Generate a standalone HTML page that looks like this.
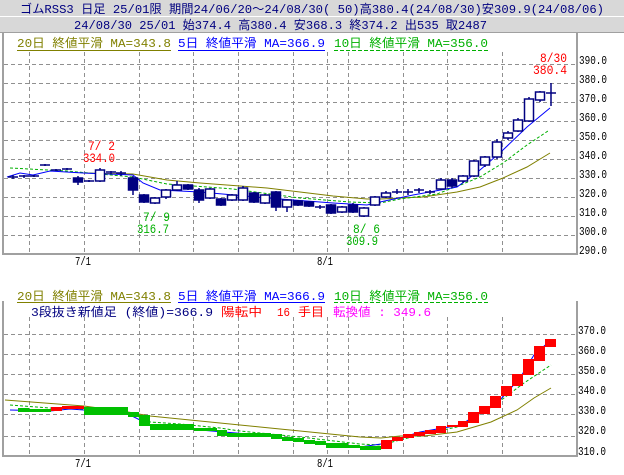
<!DOCTYPE html>
<html><head><meta charset="utf-8"><style>
html,body{margin:0;padding:0;background:#fff;}
svg{display:block;}
text{font-family:"Liberation Mono","Noto Sans CJK JP",monospace;font-size:12px;}
.ax{font-size:11px;fill:#000;}
.an{font-size:13px;}
</style></head><body>
<svg width="624" height="475" viewBox="0 0 624 475" xmlns="http://www.w3.org/2000/svg">
<rect width="624" height="475" fill="#fff"/>
<rect x="0" y="0" width="624" height="16" fill="#d8d8d8"/>
<line x1="0" y1="16.5" x2="624" y2="16.5" stroke="#fff"/>
<rect x="0" y="17" width="624" height="15" fill="#d8d8d8"/>
<line x1="0" y1="32.5" x2="624" y2="32.5" stroke="#a0a0a0"/>
<text x="20" y="13" fill="#000080" textLength="584" lengthAdjust="spacingAndGlyphs">ゴムRSS3 日足 25/01限 期間24/06/20～24/08/30( 50)高380.4(24/08/30)安309.9(24/08/06)</text>
<text x="74" y="29" fill="#000080" textLength="413" lengthAdjust="spacingAndGlyphs">24/08/30 25/01 始374.4 高380.4 安368.3 終374.2 出535 取2487</text>

<g stroke="#909090" stroke-dasharray="4,3" stroke-width="1">
<line x1="4" y1="64.5" x2="576" y2="64.5"/><line x1="4" y1="83.5" x2="576" y2="83.5"/>
<line x1="4" y1="102.5" x2="576" y2="102.5"/><line x1="4" y1="121.5" x2="576" y2="121.5"/>
<line x1="4" y1="140.5" x2="576" y2="140.5"/><line x1="4" y1="159.5" x2="576" y2="159.5"/>
<line x1="4" y1="178.5" x2="576" y2="178.5"/><line x1="4" y1="197.5" x2="576" y2="197.5"/>
<line x1="4" y1="216.5" x2="576" y2="216.5"/><line x1="4" y1="235.5" x2="576" y2="235.5"/>
<line x1="29.5" y1="52" x2="29.5" y2="253"/><line x1="84.5" y1="52" x2="84.5" y2="253"/>
<line x1="139.5" y1="52" x2="139.5" y2="253"/><line x1="193.5" y1="52" x2="193.5" y2="253"/>
<line x1="238.5" y1="52" x2="238.5" y2="253"/><line x1="293.5" y1="52" x2="293.5" y2="253"/>
<line x1="327.5" y1="52" x2="327.5" y2="253"/><line x1="348.5" y1="52" x2="348.5" y2="253"/>
<line x1="403.5" y1="52" x2="403.5" y2="253"/><line x1="447.5" y1="52" x2="447.5" y2="253"/>
<line x1="502.5" y1="52" x2="502.5" y2="253"/>
</g>
<g stroke="#a0a0a0" stroke-width="2" fill="none">
<polyline points="3,33 3,254 577,254 577,33"/>
</g>
<g class="ax">
<text x="579" y="64" textLength="28" lengthAdjust="spacingAndGlyphs">390.0</text>
<text x="579" y="83" textLength="28" lengthAdjust="spacingAndGlyphs">380.0</text>
<text x="579" y="102" textLength="28" lengthAdjust="spacingAndGlyphs">370.0</text>
<text x="579" y="121" textLength="28" lengthAdjust="spacingAndGlyphs">360.0</text>
<text x="579" y="140" textLength="28" lengthAdjust="spacingAndGlyphs">350.0</text>
<text x="579" y="159" textLength="28" lengthAdjust="spacingAndGlyphs">340.0</text>
<text x="579" y="178" textLength="28" lengthAdjust="spacingAndGlyphs">330.0</text>
<text x="579" y="197" textLength="28" lengthAdjust="spacingAndGlyphs">320.0</text>
<text x="579" y="216" textLength="28" lengthAdjust="spacingAndGlyphs">310.0</text>
<text x="579" y="235" textLength="28" lengthAdjust="spacingAndGlyphs">300.0</text>
<text x="579" y="254" textLength="28" lengthAdjust="spacingAndGlyphs">290.0</text>
<text x="75" y="265" textLength="16" lengthAdjust="spacingAndGlyphs">7/1</text>
<text x="317" y="265" textLength="16" lengthAdjust="spacingAndGlyphs">8/1</text>
</g>
<text x="17" y="47" fill="#808000" textLength="154" lengthAdjust="spacingAndGlyphs">20日 終値平滑 MA=343.8</text>
<line x1="17" y1="50.5" x2="171" y2="50.5" stroke="#808000"/>
<text x="178" y="47" fill="#0000ff" textLength="147" lengthAdjust="spacingAndGlyphs">5日 終値平滑 MA=366.9</text>
<line x1="178" y1="50.5" x2="325" y2="50.5" stroke="#0000ff"/>
<text x="334" y="47" fill="#00b000" textLength="154" lengthAdjust="spacingAndGlyphs">10日 終値平滑 MA=356.0</text>
<line x1="334" y1="50.5" x2="488" y2="50.5" stroke="#00b000" stroke-dasharray="4,2"/>

<polyline fill="none" stroke="#808000" stroke-width="1" points="83,173 133,174 167,180 200,183 267,188 333,196 367,199 380,199 400,198 423,197 457,192 480,187 503,178 527,167 550,153"/>
<polyline fill="none" stroke="#00b000" stroke-width="1" stroke-dasharray="3,2" points="10,168 67,171 133,177 167,184 233,189 300,198 350,202 380,203 400,199 437,194 463,184 480,177 503,163 527,145 548,131"/>
<polyline fill="none" stroke="#0000ff" stroke-width="1" points="7,177 20,173 33,175 50,171 83,173 133,175 143,183 160,190 200,192 267,198 333,203 367,205 380,202 413,195 457,187 480,170 503,150 527,127 550,108"/>

<g id="candles" stroke="#000080" stroke-width="1.5"></g>

<g class="an">
<text x="88" y="150" fill="#ff0000" style="font-size:13px" textLength="27" lengthAdjust="spacingAndGlyphs">7/ 2</text>
<text x="83" y="162" fill="#ff0000" style="font-size:13px" textLength="32" lengthAdjust="spacingAndGlyphs">334.0</text>
<text x="143" y="221" fill="#00b000" style="font-size:13px" textLength="27" lengthAdjust="spacingAndGlyphs">7/ 9</text>
<text x="137" y="233" fill="#00b000" style="font-size:13px" textLength="32" lengthAdjust="spacingAndGlyphs">316.7</text>
<text x="353" y="233" fill="#00b000" style="font-size:13px" textLength="27" lengthAdjust="spacingAndGlyphs">8/ 6</text>
<text x="346" y="245" fill="#00b000" style="font-size:13px" textLength="32" lengthAdjust="spacingAndGlyphs">309.9</text>
<text x="540" y="62" fill="#ff0000" style="font-size:13px" textLength="27" lengthAdjust="spacingAndGlyphs">8/30</text>
<text x="533" y="74" fill="#ff0000" style="font-size:13px" textLength="34" lengthAdjust="spacingAndGlyphs">380.4</text>
</g>

<g stroke="#909090" stroke-dasharray="4,3" stroke-width="1">
<line x1="4" y1="334.5" x2="576" y2="334.5"/><line x1="4" y1="354.5" x2="576" y2="354.5"/>
<line x1="4" y1="374.5" x2="576" y2="374.5"/><line x1="4" y1="394.5" x2="576" y2="394.5"/>
<line x1="4" y1="414.5" x2="576" y2="414.5"/><line x1="4" y1="436.5" x2="576" y2="436.5"/>
<line x1="29.5" y1="317" x2="29.5" y2="455"/><line x1="84.5" y1="317" x2="84.5" y2="455"/>
<line x1="139.5" y1="317" x2="139.5" y2="455"/><line x1="193.5" y1="317" x2="193.5" y2="455"/>
<line x1="238.5" y1="317" x2="238.5" y2="455"/><line x1="293.5" y1="317" x2="293.5" y2="455"/>
<line x1="327.5" y1="317" x2="327.5" y2="455"/><line x1="348.5" y1="317" x2="348.5" y2="455"/>
<line x1="403.5" y1="317" x2="403.5" y2="455"/><line x1="447.5" y1="317" x2="447.5" y2="455"/>
<line x1="502.5" y1="317" x2="502.5" y2="455"/>
</g>
<polyline fill="none" stroke="#a0a0a0" stroke-width="2" points="3,301 3,456 577,456 577,301"/>
<g class="ax">
<text x="578" y="334" textLength="28" lengthAdjust="spacingAndGlyphs">370.0</text>
<text x="578" y="354" textLength="28" lengthAdjust="spacingAndGlyphs">360.0</text>
<text x="578" y="374" textLength="28" lengthAdjust="spacingAndGlyphs">350.0</text>
<text x="578" y="394" textLength="28" lengthAdjust="spacingAndGlyphs">340.0</text>
<text x="578" y="414" textLength="28" lengthAdjust="spacingAndGlyphs">330.0</text>
<text x="578" y="434" textLength="28" lengthAdjust="spacingAndGlyphs">320.0</text>
<text x="578" y="455" textLength="28" lengthAdjust="spacingAndGlyphs">310.0</text>
<text x="75" y="467" textLength="16" lengthAdjust="spacingAndGlyphs">7/1</text>
<text x="317" y="467" textLength="16" lengthAdjust="spacingAndGlyphs">8/1</text>
</g>
<text x="17" y="300" fill="#808000" textLength="154" lengthAdjust="spacingAndGlyphs">20日 終値平滑 MA=343.8</text>
<line x1="17" y1="302.5" x2="171" y2="302.5" stroke="#808000"/>
<text x="178" y="300" fill="#0000ff" textLength="147" lengthAdjust="spacingAndGlyphs">5日 終値平滑 MA=366.9</text>
<line x1="178" y1="302.5" x2="325" y2="302.5" stroke="#0000ff"/>
<text x="334" y="300" fill="#00b000" textLength="154" lengthAdjust="spacingAndGlyphs">10日 終値平滑 MA=356.0</text>
<line x1="334" y1="302.5" x2="488" y2="302.5" stroke="#00b000" stroke-dasharray="4,2"/>
<text x="31" y="316" fill="#000080" textLength="182" lengthAdjust="spacingAndGlyphs">3段抜き新値足 (終値)=366.9</text>
<text x="221" y="316" fill="#ff0000" textLength="41" lengthAdjust="spacingAndGlyphs">陽転中</text>
<text x="277" y="316" fill="#ff0000" textLength="13" lengthAdjust="spacingAndGlyphs">16</text>
<text x="298" y="316" fill="#ff0000" textLength="26" lengthAdjust="spacingAndGlyphs">手目</text>
<text x="333" y="316" fill="#ff00ff" textLength="98" lengthAdjust="spacingAndGlyphs">転換値 : 349.6</text>

<polyline fill="none" stroke="#808000" points="5,400 84,406 128,412 150,416 200,421 260,427 300,431 340,435 360,437 381,438 400,436 424,436 457,432 491,422 517,410 534,398 551,388"/>
<polyline fill="none" stroke="#00b000" stroke-dasharray="3,2" points="10,405 50,408 84,409 128,413 150,422 180,424 220,428 240,431 300,437 360,444 381,445 400,440 424,434 457,427 484,412 504,398 524,383 551,365"/>
<polyline fill="none" stroke="#0000ff" points="10,410 50,411 70,409 84,410 128,414 150,425 200,430 260,435 320,443 360,447 381,444 420,432 460,425 480,413 500,400 520,378 534,355 551,340"/>

<g id="nb"></g>
</svg>
<script>
var C=[[13,177,177,175,179,0],[24,176,177,175,178,0],[34,176,176,175,177,0],[45,165,165,164,166,0],[56,170,170,169,171,0],[67,169,169,168,170,0],[78,178,182,176,185,1],[89,181,181,180,182,0],[100,170,181,168,182,0],[111,172,172,171,174,0],[121,173,173,171,176,0],[133,178,190,176,195,1],[144,195,202,194,203,1],[155,198,203,197,204,0],[166,190,197,189,199,0],[177,185,190,181,191,0],[188,185,189,184,190,1],[199,190,200,188,203,1],[210,189,198,188,199,0],[221,199,205,198,206,1],[232,195,200,194,201,0],[243,188,200,186,201,0],[254,193,202,192,203,1],[265,195,203,194,204,0],[276,192,207,191,211,1],[287,200,207,199,212,0],[298,201,205,200,206,1],[309,202,206,201,207,1],[320,207,207,205,209,0],[331,205,213,204,214,1],[342,207,212,206,213,0],[353,205,212,203,213,1],[364,208,216,207,217,0],[375,197,205,196,206,0],[386,193,197,191,198,0],[397,192,192,189,194,0],[408,192,192,189,195,0],[419,190,190,188,193,0],[430,192,192,190,194,0],[441,180,189,178,190,0],[452,180,186,178,188,1],[463,176,181,175,183,0],[474,161,176,160,177,0],[485,157,165,156,167,0],[497,142,157,139,159,0],[508,133,138,131,140,0],[518,120,131,118,132,0],[529,99,121,97,122,0],[540,92,100,91,102,0],[551,93,93,83,106,0]];
var g=document.getElementById("candles"),s="";
C.forEach(function(c){var x=c[0];
s+='<line x1="'+x+'" y1="'+c[3]+'" x2="'+x+'" y2="'+c[4]+'"/>';
if(c[2]-c[1]<1.5){s+='<line x1="'+(x-5)+'" y1="'+c[1]+'" x2="'+(x+5)+'" y2="'+c[1]+'"/>';}
else s+='<rect x="'+(x-4.5)+'" y="'+c[1]+'" width="9" height="'+(c[2]-c[1])+'" fill="'+(c[5]?'#000080':'#fff')+'"/>';});
g.innerHTML=s;
var B=[[18,29,408,412,'g'],[29,51,409,412,'g'],[51,62,407,411,'r'],[62,84,406,409,'r'],[84,128,407,415,'g'],[128,139,412,417,'g'],[139,150,415,426,'g'],[150,194,424,430,'g'],[194,217,428,431,'g'],[217,227,430,436,'g'],[227,271,433,437,'g'],[271,282,434,439,'g'],[282,293,437,441,'g'],[293,304,438,442,'g'],[304,315,440,444,'g'],[315,326,441,445,'g'],[326,348,443,448,'g'],[348,360,445,448,'g'],[360,381,446,450,'g'],[381,392,440,449,'r'],[392,403,437,441,'r'],[403,414,434,438,'r'],[414,425,432,436,'r'],[425,436,430,434,'r'],[436,446,426,433,'r'],[447,458,425,427,'r'],[458,468,421,427,'r'],[468,479,412,423,'r'],[479,490,406,414,'r'],[490,501,396,408,'r'],[501,512,386,396,'r'],[512,523,374,386,'r'],[523,534,359,375,'r'],[534,545,346,361,'r'],[545,556,339,347,'r']];
var t="";B.forEach(function(b){t+='<rect x="'+b[0]+'" y="'+b[2]+'" width="'+(b[1]-b[0])+'" height="'+(b[3]-b[2])+'" fill="'+(b[4]=='g'?'#00c000':'#ff0000')+'"/>';});
document.getElementById("nb").innerHTML=t;
</script>
</body></html>
